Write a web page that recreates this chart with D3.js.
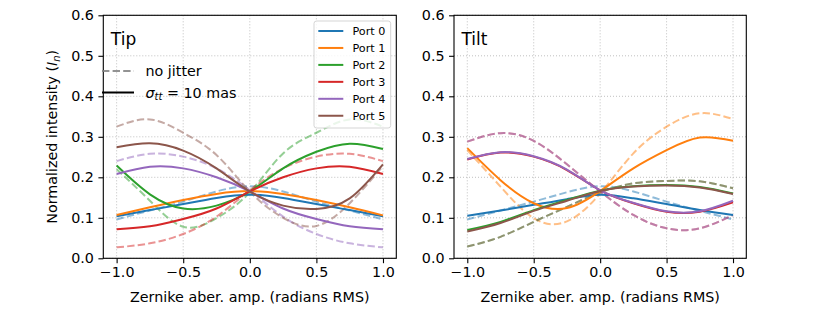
<!DOCTYPE html>
<html><head><meta charset="utf-8">
<script src="https://cdn.jsdelivr.net/npm/d3@7"></script>
<style>body{margin:0;background:#fff}svg{display:block}text{font-family:"DejaVu Sans",sans-serif}</style>
</head><body><svg id="c" width="830" height="312"></svg>
<script>
const xs = [-1, -0.75, -0.5, -0.25, 0, 0.25, 0.5, 0.75, 1];
const ports = ["Port 0", "Port 1", "Port 2", "Port 3", "Port 4", "Port 5"];
const colors = ["#1f77b4", "#ff7f0e", "#2ca02c", "#d62728", "#9467bd", "#8c564b"];
const xTicks = [-1, -0.5, 0, 0.5, 1];
const yTicks = [0, 0.1, 0.2, 0.3, 0.4, 0.5, 0.6];
const panelTitles = ["Tip", "Tilt"];

// Tip: sigma_tt = 10 mas (solid)
const tipJitter = [
  [0.104, 0.119, 0.134, 0.149, 0.157, 0.149, 0.134, 0.119, 0.104],
  [0.107, 0.126, 0.144, 0.159, 0.166, 0.159, 0.144, 0.126, 0.106],
  [0.229, 0.158, 0.123, 0.130, 0.165, 0.222, 0.263, 0.283, 0.270],
  [0.072, 0.079, 0.097, 0.123, 0.165, 0.200, 0.222, 0.226, 0.208],
  [0.208, 0.226, 0.222, 0.200, 0.165, 0.123, 0.097, 0.079, 0.072],
  [0.274, 0.284, 0.266, 0.222, 0.165, 0.130, 0.122, 0.148, 0.232]
];
// Tip: no jitter (dashed)
const tipNoJitter = [
  [0.096, 0.118, 0.140, 0.165, 0.178, 0.165, 0.140, 0.118, 0.096],
  null,
  [0.220, 0.142, 0.078, 0.099, 0.163, 0.259, 0.310, 0.343, 0.325],
  [0.027, 0.037, 0.060, 0.103, 0.168, 0.222, 0.251, 0.258, 0.240],
  [0.240, 0.258, 0.251, 0.222, 0.168, 0.103, 0.060, 0.037, 0.027],
  [0.325, 0.343, 0.310, 0.255, 0.165, 0.100, 0.080, 0.136, 0.228]
];
// Tilt: sigma_tt = 10 mas (solid)
const tiltJitter = [
  [0.105, 0.118, 0.132, 0.146, 0.157, 0.148, 0.134, 0.119, 0.107],
  [0.272, 0.193, 0.136, 0.124, 0.166, 0.222, 0.267, 0.298, 0.290],
  [0.070, 0.090, 0.119, 0.144, 0.167, 0.178, 0.181, 0.176, 0.160],
  [0.244, 0.261, 0.251, 0.218, 0.168, 0.136, 0.115, 0.115, 0.138],
  [0.245, 0.262, 0.252, 0.219, 0.168, 0.137, 0.116, 0.116, 0.142],
  [0.066, 0.087, 0.117, 0.142, 0.166, 0.177, 0.180, 0.175, 0.159]
];
// Tilt: no jitter (dashed)
const tiltNoJitter = [
  [0.096, 0.118, 0.140, 0.163, 0.178, 0.165, 0.140, 0.117, 0.096],
  [0.267, 0.177, 0.099, 0.091, 0.160, 0.259, 0.325, 0.358, 0.344],
  [0.029, 0.053, 0.090, 0.127, 0.163, 0.185, 0.191, 0.190, 0.173],
  [0.288, 0.309, 0.290, 0.232, 0.165, 0.107, 0.074, 0.074, 0.107],
  [0.288, 0.309, 0.290, 0.232, 0.165, 0.107, 0.074, 0.074, 0.107],
  [0.029, 0.053, 0.090, 0.127, 0.163, 0.185, 0.191, 0.190, 0.173]
];

const svg = d3.select("#c");
const yTop = 15.3, yBot = 258.3;
const panels = [
  {left: 103.3, right: 396.3, solid: tipJitter, dashed: tipNoJitter},
  {left: 454, right: 746.3, solid: tiltJitter, dashed: tiltNoJitter}
];
const FS = 14.3;

panels.forEach((p, pi) => {
  const x = d3.scaleLinear().domain([-1.1, 1.1]).range([p.left, p.right]);
  const y = d3.scaleLinear().domain([0, 0.6]).range([yBot, yTop]);
  const g = svg.append("g");
  const clipId = "clip" + pi;
  svg.append("clipPath").attr("id", clipId).append("rect")
    .attr("x", p.left).attr("y", yTop).attr("width", p.right - p.left).attr("height", yBot - yTop);

  // grid
  g.selectAll(".gx").data(xTicks).join("line")
    .attr("x1", d => x(d)).attr("x2", d => x(d)).attr("y1", yTop).attr("y2", yBot)
    .attr("stroke", "#b0b0b0").attr("stroke-width", 0.8).attr("stroke-dasharray", "1,2");
  g.selectAll(".gy").data(yTicks).join("line")
    .attr("y1", d => y(d)).attr("y2", d => y(d)).attr("x1", p.left).attr("x2", p.right)
    .attr("stroke", "#b0b0b0").attr("stroke-width", 0.8).attr("stroke-dasharray", "1,2");

  const line = d3.line().x((d, i) => x(xs[i])).y(d => y(d)).curve(d3.curveNatural);
  const lg = g.append("g").attr("clip-path", `url(#${clipId})`);
  p.dashed.forEach((s, i) => {
    if (!s) return;
    lg.append("path").attr("d", line(s)).attr("fill", "none")
      .attr("stroke", colors[i]).attr("stroke-opacity", 0.5).attr("stroke-width", 2)
      .attr("stroke-dasharray", "7.4,3.2");
  });
  p.solid.forEach((s, i) => {
    lg.append("path").attr("d", line(s)).attr("fill", "none")
      .attr("stroke", colors[i]).attr("stroke-width", 2);
  });

  // axes
  const xa = g.append("g").attr("transform", `translate(0,${yBot})`)
    .call(d3.axisBottom(x).tickValues(xTicks).tickSize(4.9).tickPadding(3.5)
      .tickFormat(d => d3.format(".1f")(d).replace("-", "\u2212")));
  const ya = g.append("g").attr("transform", `translate(${p.left},0)`)
    .call(d3.axisLeft(y).tickValues(yTicks).tickSize(4.9).tickPadding(4.5).tickFormat(d3.format(".1f")));
  [xa, ya].forEach(a => {
    a.select(".domain").remove();
    a.selectAll("line").attr("stroke", "#000").attr("stroke-width", 1.1);
    a.selectAll("text").attr("font-size", FS).attr("fill", "#000").attr("font-family", "DejaVu Sans");
  });
  g.append("rect").attr("x", p.left).attr("y", yTop).attr("width", p.right - p.left)
    .attr("height", yBot - yTop).attr("fill", "none").attr("stroke", "#000").attr("stroke-width", 1.1);

  g.append("text").attr("x", (p.left + p.right) / 2).attr("y", 302)
    .attr("text-anchor", "middle").attr("font-size", FS).text("Zernike aber. amp. (radians RMS)");
  g.append("text").attr("x", p.left + 7.5).attr("y", 44.5).attr("font-size", 17).text(panelTitles[pi]);

  if (pi === 0) {
    // y label
    const yl = g.append("text").attr("transform", `translate(57,${(yTop + yBot) / 2}) rotate(-90)`)
      .attr("text-anchor", "middle").attr("font-size", FS);
    yl.append("tspan").text("Normalized intensity (");
    yl.append("tspan").attr("font-style", "italic").text("I");
    yl.append("tspan").attr("font-style", "italic").attr("font-size", FS * 0.7).attr("dy", 3).text("n");
    yl.append("tspan").attr("dy", -3).text(")");

    // style legend
    g.append("line").attr("x1", 102).attr("x2", 134).attr("y1", 71).attr("y2", 71)
      .attr("stroke", "#808080").attr("stroke-opacity", 0.85).attr("stroke-width", 2).attr("stroke-dasharray", "7.4,3.2");
    g.append("text").attr("x", 145.5).attr("y", 76).attr("font-size", FS).text("no jitter");
    g.append("line").attr("x1", 102).attr("x2", 134).attr("y1", 92.5).attr("y2", 92.5)
      .attr("stroke", "#000").attr("stroke-width", 2);
    const st = g.append("text").attr("x", 145.5).attr("y", 97.5).attr("font-size", FS);
    st.append("tspan").attr("font-style", "italic").text("\u03c3");
    st.append("tspan").attr("font-style", "italic").attr("font-size", FS * 0.7).attr("dy", 2.5).text("tt");
    st.append("tspan").attr("dy", -2.5).text(" = 10 mas");

    // port legend
    const L = g.append("g");
    L.append("rect").attr("x", 314).attr("y", 21).attr("width", 76.7).attr("height", 107)
      .attr("rx", 2.5).attr("fill", "#fff").attr("fill-opacity", 0.8).attr("stroke", "#d0d0d0").attr("stroke-width", 0.9);
    ports.forEach((name, i) => {
      const yy = 31 + i * 16.95;
      L.append("line").attr("x1", 318.3).attr("x2", 343.3).attr("y1", yy).attr("y2", yy)
        .attr("stroke", colors[i]).attr("stroke-width", 2);
      L.append("text").attr("x", 352.5).attr("y", yy + 4).attr("font-size", 11.2).text(name);
    });
  }
});
</script></body></html>
